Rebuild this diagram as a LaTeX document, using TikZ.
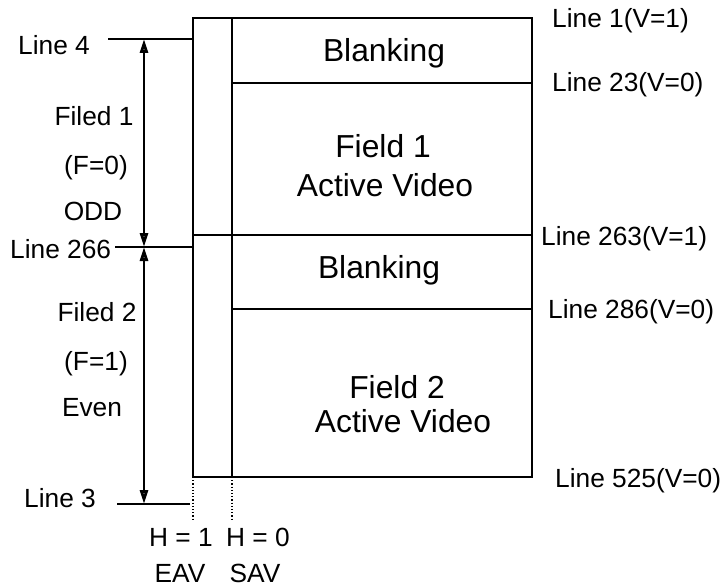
\documentclass[tikz,border=0pt]{standalone}
\usepackage{fontspec}
\setmainfont{Liberation Sans}
\usetikzlibrary{arrows.meta, positioning}

\begin{document}
\begin{tikzpicture}[
    x=1pt, y=-1pt,
    frame/.style={draw=black, line width=1.6pt},
    guide/.style={draw=black, line width=1.2pt, dotted},
    >={Triangle[open, length=14pt, width=8pt]},
    span/.style={draw=black, <->, line width=2.8pt},
    side/.style={font=\fontsize{26.3}{30}\selectfont, inner sep=0pt},
    area/.style={font=\fontsize{31.8}{36}\selectfont, inner sep=0pt}
  ]
  \useasboundingbox (0,0) rectangle (725,586);

  % frame and field boundaries
  \coordinate (nw) at (193,18);
  \coordinate (se) at (532,477);
  \coordinate (sT) at (232,18);
  \coordinate (sB) at (232,477);
  \coordinate (eB) at (193,477);
  \coordinate (b23)  at (232,83);  \coordinate (e23)  at (532,83);
  \coordinate (b263) at (193,235); \coordinate (e263) at (532,235);
  \coordinate (b286) at (232,309); \coordinate (e286) at (532,309);
  \draw[frame] (nw) rectangle (se);
  \draw[frame] (sT) -- (sB);
  \draw[frame] (b23) -- (e23);
  \draw[frame] (b263) -- (e263);
  \draw[frame, line width=2.4pt] (b286) -- (e286);

  % left markers
  \coordinate (l4)   at (108,39);  \coordinate (r4)   at (193,39);
  \coordinate (l266) at (115,247); \coordinate (r266) at (193,247);
  \coordinate (l3)   at (117,504); \coordinate (r3)   at (190,504);
  \draw[frame] (l4) -- (r4);
  \draw[frame] (l266) -- (r266);
  \draw[frame] (l3) -- (r3);

  \coordinate (a4)   at (144,39);
  \coordinate (a266) at (144,247);
  \coordinate (a3)   at (144,504);
  \draw[span] (a4) -- (a266);
  \draw[span] (a266) -- (a3);

  % EAV / SAV guides
  \coordinate (eD) at (193,520);
  \coordinate (sD) at (232,520);
  \draw[guide] (eB) -- (eD);
  \draw[guide] (sB) -- (sD);

  % left labels
  \node[side, anchor=base west] (line4)   at (18,55)  {Line 4};
  \node[side, anchor=base]      (field1)  at (94,125) {Filed 1};
  \node[side, anchor=base]      (f0)      at (96,174) {(F=0)};
  \node[side, anchor=base]      (odd)     at (93,220) {ODD};
  \node[side, anchor=base west] (line266) at (10,258) {Line 266};
  \node[side, anchor=base]      (field2)  at (97,321) {Filed 2};
  \node[side, anchor=base]      (f1)      at (96,370) {(F=1)};
  \node[side, anchor=base]      (even)    at (92,416) {Even};
  \node[side, anchor=base west] (line3)   at (24,507) {Line 3};

  % bottom labels
  \node[side, anchor=base] (h1)  at (181,546) {H = 1};
  \node[side, anchor=base] (h0)  at (258,546) {H = 0};
  \node[side, anchor=base] (eav) at (180,582) {EAV};
  \node[side, anchor=base] (sav) at (255,582) {SAV};

  % right labels
  \node[side, anchor=base west] (line1)   at (552,28)  {Line 1(V=1)};
  \node[side, anchor=base west] (line23)  at (552,92)  {Line 23(V=0)};
  \node[side, anchor=base west] (line263) at (541,245) {Line 263(V=1)};
  \node[side, anchor=base west] (line286) at (548,318) {Line 286(V=0)};
  \node[side, anchor=base west] (line525) at (555,487) {Line 525(V=0)};

  % areas
  \node[area, anchor=base] (blank1) at (384,61)  {Blanking};
  \node[area, anchor=base] (act1a)  at (383,157) {Field 1};
  \node[area, anchor=base] (act1b)  at (385,196) {Active Video};
  \node[area, anchor=base] (blank2) at (379,278) {Blanking};
  \node[area, anchor=base] (act2a)  at (397,398) {Field 2};
  \node[area, anchor=base] (act2b)  at (403,432) {Active Video};
\end{tikzpicture}
\end{document}
